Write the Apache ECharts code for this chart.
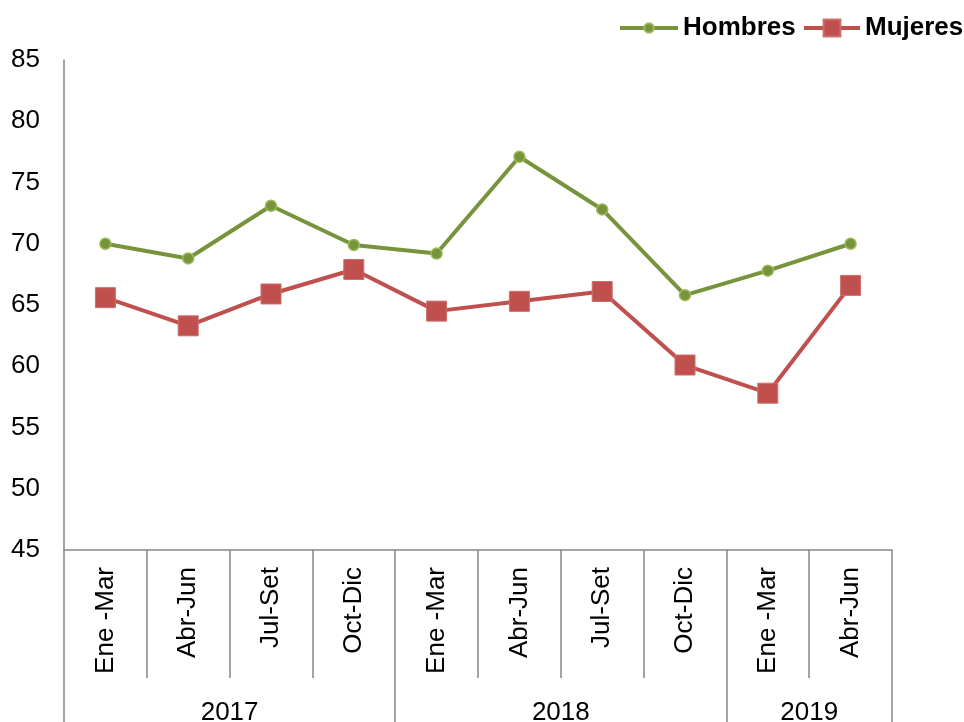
<!DOCTYPE html>
<html>
<head>
<meta charset="utf-8">
<script src="https://cdn.jsdelivr.net/npm/echarts@6/dist/echarts.min.js"></script>
<style>
html,body{margin:0;padding:0;background:#fff;}
#chart{width:964px;height:722px;}
</style>
</head>
<body>
<div id="chart"></div>
<script>
const periods = ['Ene -Mar','Abr-Jun','Jul-Set','Oct-Dic','Ene -Mar','Abr-Jun','Jul-Set','Oct-Dic','Ene -Mar','Abr-Jun'];
const years = ['2017','2018','2019'];
const yearSpans = [4, 4, 2];
const hombres = [70.0, 68.8, 73.1, 69.9, 69.2, 77.1, 72.8, 65.8, 67.8, 70.0];
const mujeres = [65.6, 63.3, 65.9, 67.9, 64.5, 65.3, 66.1, 60.1, 57.8, 66.6];
const yTicks = [45, 50, 55, 60, 65, 70, 75, 80, 85];

// Half-slot positions for the year axis (2 slots per period, plus end point)
const slots = [];
const boundaryIdx = [0];
const labelIdx = {};
let pos = 0;
for (let i = 0; i < years.length; i++) {
  labelIdx[pos + yearSpans[i]] = years[i];
  pos += yearSpans[i] * 2;
  boundaryIdx.push(pos);
}
for (let i = 0; i <= periods.length * 2; i++) slots.push(labelIdx[i] || '');

const FONT = 'Liberation Sans, Arial, sans-serif';
const AXIS_COLOR = '#868686';

const chart = echarts.init(document.getElementById('chart'), null, {renderer: 'canvas'});
chart.setOption({
  animation: false,
  backgroundColor: '#fff',
  textStyle: {fontFamily: FONT},
  grid: {left: 64, right: 72, top: 60, bottom: 172, containLabel: false, outerBoundsMode: 'none'},
  legend: [
    {
      data: ['Hombres'], left: 613, top: 10, padding: 5,
      itemWidth: 58, itemHeight: 12, selectedMode: false,
      lineStyle: {width: 4},
      textStyle: {fontFamily: FONT, fontSize: 26, fontWeight: 'bold', color: '#000'}
    },
    {
      data: ['Mujeres'], left: 797, top: 10, padding: 5,
      itemWidth: 56, itemHeight: 21, selectedMode: false,
      lineStyle: {width: 4},
      textStyle: {fontFamily: FONT, fontSize: 26, fontWeight: 'bold', color: '#000'}
    }
  ],
  xAxis: [
    {
      type: 'category', data: periods, position: 'bottom', boundaryGap: true,
      axisLine: {show: true, lineStyle: {color: AXIS_COLOR, width: 1.5}},
      axisTick: {show: true, interval: 0, length: 128, lineStyle: {color: AXIS_COLOR, width: 1.5}},
      axisLabel: {interval: 0, rotate: 90, margin: 17, fontSize: 26, color: '#000', fontFamily: FONT},
      splitLine: {show: false}
    },
    {
      type: 'category', data: slots, position: 'bottom', boundaryGap: false, offset: 0,
      axisLine: {show: false},
      axisTick: {show: true, length: 172, interval: (i) => boundaryIdx.indexOf(i) >= 0,
        lineStyle: {color: AXIS_COLOR, width: 1.5}},
      axisLabel: {interval: (i, v) => v !== '', margin: 150, fontSize: 26, color: '#000', fontFamily: FONT},
      splitLine: {show: false}
    }
  ],
  yAxis: {
    type: 'value', min: yTicks[0], max: yTicks[yTicks.length - 1], interval: 5,
    axisLine: {show: true, lineStyle: {color: AXIS_COLOR, width: 1.5}},
    axisTick: {show: false},
    axisLabel: {fontSize: 26, color: '#000', margin: 24, fontFamily: FONT},
    splitLine: {show: false}
  },
  series: [
    {
      name: 'Hombres', type: 'line', data: hombres, xAxisIndex: 0,
      symbol: 'circle', symbolSize: 11,
      lineStyle: {color: '#77933C', width: 4},
      itemStyle: {color: '#77933C', borderColor: '#9BBB59', borderWidth: 1.5}
    },
    {
      name: 'Mujeres', type: 'line', data: mujeres, xAxisIndex: 0,
      symbol: 'rect', symbolSize: 20,
      lineStyle: {color: '#C0504D', width: 4},
      itemStyle: {color: '#C0504D', borderColor: '#CC6F6C', borderWidth: 1}
    }
  ]
});
</script>
</body>
</html>
